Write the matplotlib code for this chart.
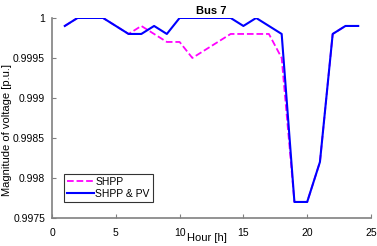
import matplotlib
matplotlib.use("Agg")
import matplotlib.pyplot as plt

plt.rcParams['font.family'] = ['Liberation Sans', 'DejaVu Sans']

hours = list(range(1, 25))
shpp = [0.9999, 1.0, 1.0, 1.0, 0.9999, 0.9998, 0.9999, 0.9998, 0.9997, 0.9997,
        0.9995, 0.9996, 0.9997, 0.9998, 0.9998, 0.9998, 0.9998, 0.9995, 0.9977, 0.9977,
        0.9982, 0.9998, 0.9999, 0.9999]
shpp_pv = [0.9999, 1.0, 1.0, 1.0, 0.9999, 0.9998, 0.9998, 0.9999, 0.9998, 1.0,
           1.0, 1.0, 1.0, 1.0, 0.9999, 1.0, 0.9999, 0.9998, 0.9977, 0.9977,
           0.9982, 0.9998, 0.9999, 0.9999]

fig = plt.figure(figsize=(3.77, 2.46), dpi=100)
ax = fig.add_axes([0.138, 0.114, 0.846, 0.813])

ax.plot(hours, shpp, color='#ff00ff', linestyle='--', linewidth=1.3, label='SHPP')
ax.plot(hours, shpp_pv, color='#0000ff', linewidth=1.5, label='SHPP & PV')

ax.set_xlim(0, 25)
ax.set_ylim(0.9975, 1.0)
ax.set_xticks([0, 5, 10, 15, 20, 25])
ax.set_yticks([0.9975, 0.998, 0.9985, 0.999, 0.9995, 1.0])
ax.set_yticklabels(['0.9975', '0.998', '0.9985', '0.999', '0.9995', '1'])

for s in ['top', 'right']:
    ax.spines[s].set_visible(False)
for s in ['left', 'bottom']:
    ax.spines[s].set_color('#808080')
    ax.spines[s].set_linewidth(1.2)
ax.tick_params(direction='in', length=3, color='#808080', labelsize=7.5)
ax.tick_params(axis='x', pad=7)
ax.tick_params(axis='y', pad=5)

ax.set_title('Bus 7', fontsize=8, fontweight='bold', pad=3)
ax.set_xlabel('Hour [h]', fontsize=8)
ax.xaxis.set_label_coords(0.486, -0.075)
ax.set_ylabel('Magnitude of voltage [p.u.]', fontsize=8)
ax.yaxis.set_label_coords(-0.125, 0.44)

leg = ax.legend(loc='lower left', bbox_to_anchor=(0.038, 0.08), fontsize=7.5,
                frameon=True, fancybox=False, handlelength=2.6, handletextpad=0.1,
                borderpad=0.3, labelspacing=0.2, borderaxespad=0)
leg.get_frame().set_edgecolor('black')
leg.get_frame().set_linewidth(0.8)

fig.savefig('out.png', dpi=100)
